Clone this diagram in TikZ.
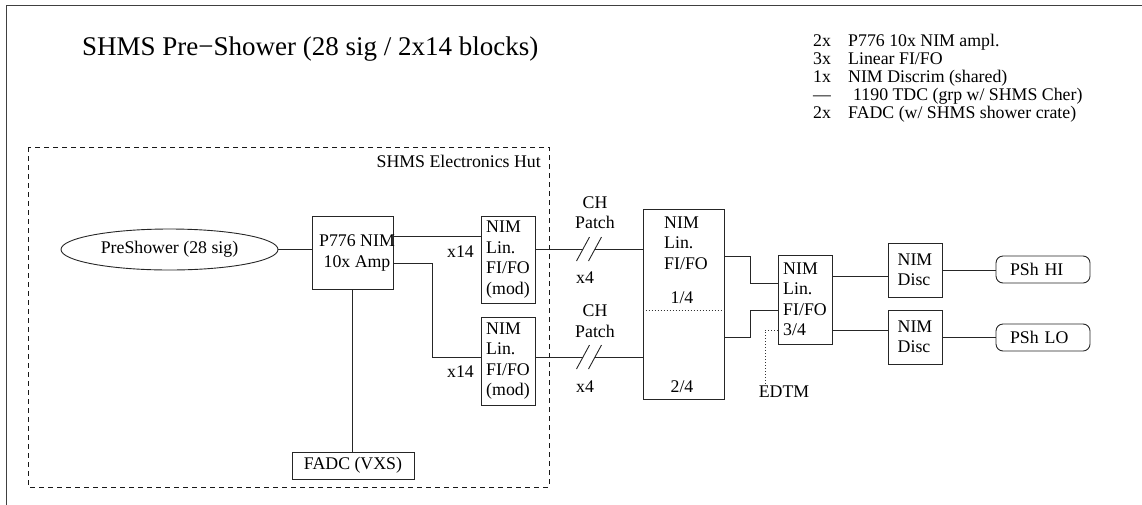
\documentclass[tikz,border=0pt]{standalone}
\usepackage{fontspec}
\setmainfont{Liberation Serif}
\usetikzlibrary{shapes.geometric,calc}
\begin{document}
\begin{tikzpicture}[x=1pt,y=-1pt,
  every node/.style={font=\fontsize{17.8}{20.5}\selectfont, inner sep=0pt},
  ln/.style={draw=black!85, line width=0.9pt},
  box/.style={ln, rectangle, align=left},
  hutline/.style={draw=black!90, line width=0.9pt, dash pattern=on 5pt off 4pt},
  dotline/.style={draw=black!80, line width=0.8pt, dash pattern=on 1pt off 2pt},
  term/.style={ln, rectangle, rounded corners=7pt, minimum width=94, minimum height=27, text width=66, align=left},
  legtxt/.style={anchor=base west}
]
\useasboundingbox (0,0) rectangle (1142,504);
\clip (0,0) rectangle (1142,504);
% outer frame
\draw[draw=black!75, line width=1.3pt] (6.5,5.5) rectangle (1160,520);
% title
\node[anchor=base west, font=\fontsize{27}{30}\selectfont] (title) at (82,55) {SHMS Pre−Shower (28 sig / 2x14 blocks)};
% legend
\node[legtxt] (n1) at (813,46) {2x};
\node[legtxt] (t1) at (848,46) {P776 10x NIM ampl.};
\node[legtxt] (n2) at (813,64) {3x};
\node[legtxt] (t2) at (848,64) {Linear FI/FO};
\node[legtxt] (n3) at (813,82) {1x};
\node[legtxt] (t3) at (848,82) {NIM Discrim (shared)};
\node[legtxt] (n4) at (813,100) {—};
\node[legtxt] (t4) at (853,100) {1190 TDC (grp w/ SHMS Cher)};
\node[legtxt] (n5) at (813,118) {2x};
\node[legtxt] (t5) at (848,118) {FADC (w/ SHMS shower crate)};
% hut
\draw[hutline] (28,147) rectangle (549,487);
\node[anchor=base east] (hut) at (541,167) {SHMS Electronics Hut};
% nodes
\node[ellipse, ln, minimum width=217, minimum height=41] (ps) at (169.5,249.5) {PreShower (28 sig)};
\node[box, minimum width=81, minimum height=73] (amp) at (352.5,252.5) {};
\node[align=center] (amptxt) at (357,253) {P776 NIM\\10x Amp};
\node[box, minimum width=54, minimum height=87] (fifoA) at (508,259.5) {NIM\\Lin.\\FI/FO\\(mod)};
\node[box, minimum width=54, minimum height=88] (fifoB) at (508,361) {NIM\\Lin.\\FI/FO\\(mod)};
\node[anchor=east] (x14a) at (474,252) {x14};
\node[anchor=east] (x14b) at (474,372) {x14};
\node[box, minimum width=122, minimum height=27] (fadc) at (353,465.5) {FADC (VXS)};
\node[box, minimum width=81, minimum height=190] (big) at (683.5,304) {};
\node[align=left] (bigtxt) at (686,243) {NIM\\Lin.\\FI/FO};
\node (q1) at (682,298) {1/4};
\node (q2) at (682,387) {2/4};
\node[align=center] (chA) at (595,212.5) {CH\\Patch};
\node[align=center] (chB) at (595,321) {CH\\Patch};
\node (x4a) at (585,278) {x4};
\node (x4b) at (585,387) {x4};
\node[box, minimum width=54, minimum height=89] (fifoC) at (805,299.5) {NIM\\Lin.\\FI/FO\\3/4};
\node[box, minimum width=54, minimum height=54] (discA) at (915,270) {NIM\\Disc};
\node[box, minimum width=54, minimum height=54] (discB) at (915,337) {NIM\\Disc};
\node[term] (hi) at (1043,269.5) {PSh HI};
\node[term] (lo) at (1043,337.5) {PSh LO};
\node (edtm) at (784,392) {EDTM};
% slash marks (coordinates)
\coordinate (sA1) at (583,249);
\coordinate (sA2) at (595,249);
\coordinate (sB1) at (583,357);
\coordinate (sB2) at (595,357);
% connectors
\draw[ln] (ps.east) -- (ps.east -| amp.west);
\draw[ln] ([yshift=16.5pt]amp.east) -- ([yshift=16.5pt]amp.east -| fifoA.west);
\draw[ln] ([yshift=-10.5pt]amp.east) -| ([xshift=-48pt,yshift=4pt]fifoB.west) -- ([yshift=4pt]fifoB.west);
\draw[ln] (amp.south) -- (amp.south |- fadc.north);
\draw[ln] ([yshift=10.5pt]fifoA.east) -- (sA1);
\draw[ln] (sA2) -- (sA2 -| big.west);
\draw[ln] ([yshift=4pt]fifoB.east) -- (sB1);
\draw[ln] (sB2) -- (sB2 -| big.west);
\foreach \c in {sA1,sA2,sB1,sB2}{
  \draw[ln] ($(\c)+(-6.5,12)$) -- ($(\c)+(6.5,-12)$);
}
\draw[dotline] ([yshift=-6pt]big.west) -- ([yshift=-6pt]big.east);
\draw[ln] ([yshift=48pt]big.east) -| ([xshift=-27pt,yshift=16.5pt]fifoC.west) -- ([yshift=16.5pt]fifoC.west);
\draw[ln] ([yshift=-33pt]big.east) -| ([xshift=-27pt,yshift=-10.5pt]fifoC.west) -- ([yshift=-10.5pt]fifoC.west);
\draw[ln] ([yshift=23.5pt]fifoC.east) -- ([yshift=23.5pt]fifoC.east -| discA.west);
\draw[ln] ([yshift=-30.5pt]fifoC.east) -- ([yshift=-30.5pt]fifoC.east -| discB.west);
\draw[ln] (discA.east) -- (discA.east -| hi.west);
\draw[ln] (discB.east) -- (discB.east -| lo.west);
\draw[dotline] ([yshift=-30.5pt]fifoC.west) -| ([xshift=-19pt,yshift=2pt]edtm.north);
\end{tikzpicture}
\end{document}
